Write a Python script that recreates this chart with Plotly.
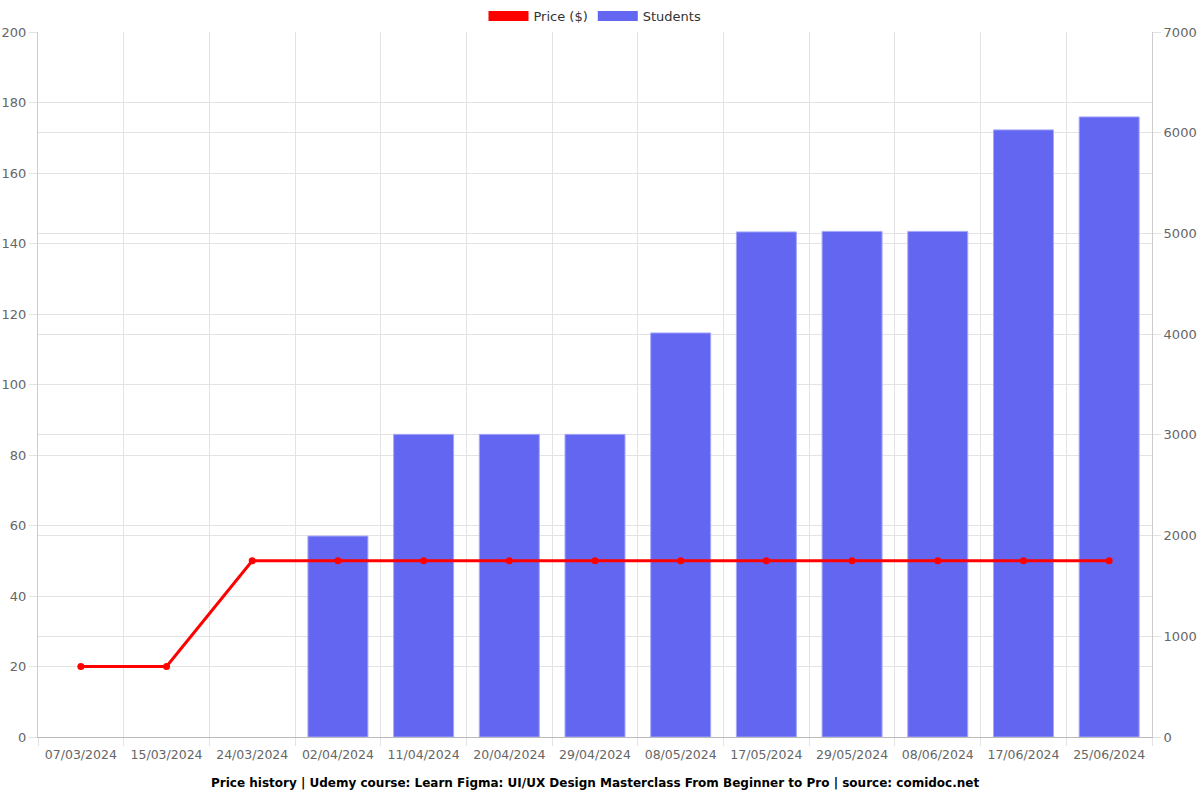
import plotly.graph_objects as go

dates = ["07/03/2024", "15/03/2024", "24/03/2024", "02/04/2024", "11/04/2024",
         "20/04/2024", "29/04/2024", "08/05/2024", "17/05/2024", "29/05/2024",
         "08/06/2024", "17/06/2024", "25/06/2024"]
price = [20, 20, 50, 50, 50, 50, 50, 50, 50, 50, 50, 50, 50]
students = [None, None, None, 1995, 3005, 3005, 3005, 4012, 5015, 5020, 5020, 6028, 6157]

RED = "#ff0000"
BLUE = "#6366f1"
GRID = "#e3e3e3"
TXT = "#666666"

fig = go.Figure()
# legend-only entries (rectangular swatches)
fig.add_trace(go.Scatter(x=[dates[0]], y=[None], name="Price ($)", mode="lines",
                         line=dict(color=RED, width=14), yaxis="y", hoverinfo="skip"))
fig.add_trace(go.Scatter(x=[dates[0]], y=[None], name="Students", mode="lines",
                         line=dict(color=BLUE, width=14), yaxis="y", hoverinfo="skip"))
fig.add_trace(go.Bar(x=dates, y=students, name="Students", yaxis="y",
                     marker=dict(color=BLUE, line=dict(color="#a5a8f8", width=1)),
                     width=0.7, showlegend=False))
fig.add_trace(go.Scatter(x=dates, y=price, name="Price ($)", yaxis="y2", mode="lines+markers",
                         line=dict(color=RED, width=3), marker=dict(color=RED, size=7),
                         showlegend=False))

fig.update_layout(
    width=1200, height=800,
    margin=dict(l=38, r=48, t=32, b=63, autoexpand=False),
    paper_bgcolor="white", plot_bgcolor="white",
    font=dict(family="DejaVu Sans", size=12.5, color=TXT),
    barmode="overlay",
    showlegend=True,
    legend=dict(orientation="h", x=0.5, xanchor="center", yref="container", y=1 - 16 / 800,
                yanchor="middle", font=dict(size=13, color="#333333"), traceorder="normal",
                itemwidth=40, tracegroupgap=0),
    xaxis=dict(type="category", tickson="boundaries", showgrid=True, gridcolor=GRID,
               range=[-0.5, len(dates) - 0.5],
               ticks="outside", ticklen=8, tickcolor=GRID, linecolor="#bbbbbb", showline=True,
               tickangle=0, automargin=False, ticklabelstandoff=6,
               tickfont=dict(size=12.5, color=TXT)),
    yaxis=dict(side="right", range=[0, 7000], dtick=1000, showgrid=True, gridcolor=GRID,
               ticks="outside", ticklen=8, tickcolor=GRID, showline=True, linecolor="#cccccc",
               zeroline=False, automargin=False, tickfont=dict(size=13, color=TXT)),
    yaxis2=dict(side="left", overlaying="y", range=[0, 200], dtick=20, showgrid=True,
                gridcolor=GRID, ticks="outside", ticklen=8, tickcolor=GRID, showline=True,
                linecolor="#cccccc", zeroline=False, automargin=False,
                tickfont=dict(size=13, color=TXT)),
    annotations=[dict(text="<b>Price history | Udemy course: Learn Figma: UI/UX Design Masterclass From Beginner to Pro | source: comidoc.net</b>",
                      x=0.5, xref="paper", y=-(783 - 737) / (737 - 32), yref="paper",
                      yanchor="middle", showarrow=False,
                      font=dict(size=12, color="#000000"))],
)

fig.write_html("out.html")
